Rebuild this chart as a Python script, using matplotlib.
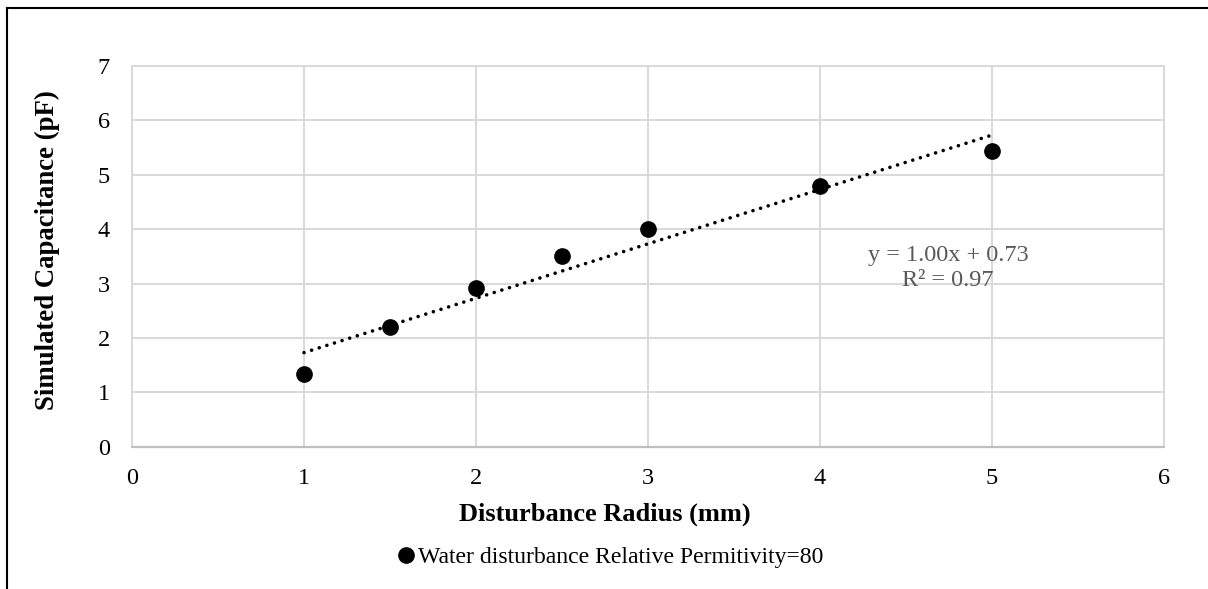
import matplotlib
matplotlib.use("Agg")
import matplotlib.pyplot as plt
import numpy as np
from matplotlib.lines import Line2D

# Simulated capacitance versus disturbance radius
radius_mm = [1, 1.5, 2, 2.5, 3, 4, 5]
capacitance_pf = [1.33, 2.20, 2.91, 3.50, 4.00, 4.79, 5.43]

# Linear trendline coefficients
slope = 1.00
intercept = 0.73
r_squared = 0.97

x_ticks = [0, 1, 2, 3, 4, 5, 6]
y_ticks = [0, 1, 2, 3, 4, 5, 6, 7]

series_label = "Water disturbance Relative Permitivity=80"
x_label = "Disturbance Radius (mm)"
y_label = "Simulated Capacitance (pF)"

plt.rcParams["font.family"] = ["Liberation Serif", "DejaVu Serif"]

W, H = 1208, 589
fig = plt.figure(figsize=(W / 100, H / 100), dpi=100)

# plot area in pixel coordinates
left, right, top, bottom = 132, 1164, 66, 446.7
ax = fig.add_axes([left / W, 1 - bottom / H, (right - left) / W, (bottom - top) / H])

ax.set_xlim(0, 6)
ax.set_ylim(0, 7)
ax.set_xticks(x_ticks)
ax.set_yticks(y_ticks)
ax.tick_params(length=0, labelsize=17.5, colors="black")
ax.tick_params(axis="x", pad=15)
ax.tick_params(axis="y", pad=16)
ax.grid(True, color="#d9d9d9", linewidth=1.4)
ax.set_axisbelow(True)
for side in ["top", "right", "left"]:
    ax.spines[side].set_color("#d9d9d9")
    ax.spines[side].set_linewidth(1.4)
ax.spines["bottom"].set_color("#bfbfbf")
ax.spines["bottom"].set_linewidth(1.6)

# trendline across the data range
xt = np.array([min(radius_mm), max(radius_mm)])
ax.plot(xt, slope * xt + intercept, linestyle=(0, (0.01, 2.2)), color="black",
        linewidth=2.6, dash_capstyle="round", zorder=2)

ax.plot(radius_mm, capacitance_pf, linestyle="none", marker="o", markersize=11,
        color="black", zorder=3)

ax.text(4.744, 3.29, f"y = {slope:.2f}x + {intercept:.2f}\nR\u00b2 = {r_squared:.2f}",
        ha="center", va="center", fontsize=17.5, color="#595959", linespacing=1.26)

ax.set_xlabel(x_label, fontsize=19, fontweight="bold")
ax.xaxis.set_label_coords((605 - left) / (right - left), -(514 - bottom) / (bottom - top))
ax.xaxis.label.set_va("center")
ax.set_ylabel(y_label, fontsize=19.3, fontweight="bold")
ax.yaxis.set_label_coords((47 - left) / (right - left), (bottom - 250) / (bottom - top))
ax.yaxis.label.set_va("center")

# legend below the x label
handle = Line2D([], [], linestyle="none", marker="o", markersize=11, color="black")
fig.legend([handle], [series_label], loc="center", bbox_to_anchor=(609 / W, 1 - 557 / H),
           frameon=False, fontsize=17.1, handletextpad=0.0, handlelength=1.0,
           borderaxespad=0)

# outer chart border (left and top edges)
fig.add_artist(Line2D([6.5 / W, 6.5 / W], [0, 1 - 8 / H], color="black", linewidth=1.5,
                      transform=fig.transFigure))
fig.add_artist(Line2D([6.5 / W, 1], [1 - 8 / H, 1 - 8 / H], color="black", linewidth=1.5,
                      transform=fig.transFigure))

fig.savefig("out.png", dpi=100, facecolor="white")
